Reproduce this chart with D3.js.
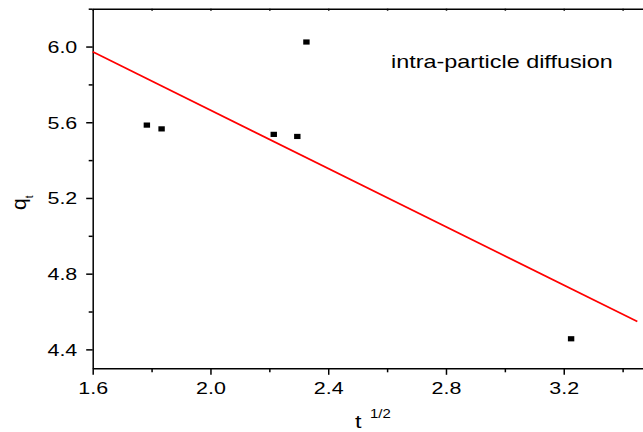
<!DOCTYPE html>
<html lang="en">
<head>
<meta charset="UTF-8">
<title>intra-particle diffusion</title>
<script src="https://d3js.org/d3.v7.min.js"></script>
<style>
  body { margin: 0; background: #fff; overflow: hidden; }
  svg { display: block; font-family: "Liberation Sans", Arial, sans-serif; }
  .axis path, .axis line { stroke: #000; stroke-width: 1.5px; }
  .axis text { fill: #000; }
</style>
</head>
<body>
<svg id="chart" width="643" height="432"></svg>
<script>
// measured data (t^1/2 vs q_t)
const tValues = [1.784, 1.834, 2.215, 2.295, 2.326, 3.225];
const qValues = [5.585, 5.565, 5.536, 5.525, 6.024, 4.456];

const xMajor = [1.6, 2.0, 2.4, 2.8, 3.2];
const xMinor = [1.8, 2.2, 2.6, 3.0, 3.4];
const yMajor = [4.4, 4.8, 5.2, 5.6, 6.0];
const yMinor = [4.6, 5.0, 5.4, 5.8, 6.2];
const fitRange = [1.6, 3.45];
const annotation = "intra-particle diffusion";

const svg = d3.select("#chart");
const plotLeft = 92.7, plotTop = 8.7, plotBottom = 368.3;
const stretch = 1.3; // labels in the source are drawn wide

const x = d3.scaleLinear().domain([1.6, 3.5]).range([plotLeft, plotLeft + 1.9 * 294.4]);
const y = d3.scaleLinear().domain([4.3, 6.2]).range([plotBottom, plotTop]);

// least-squares line through the points
const mx = d3.mean(tValues), my = d3.mean(qValues);
const sxy = d3.sum(tValues, (t, i) => (t - mx) * (qValues[i] - my));
const sxx = d3.sum(tValues, t => (t - mx) * (t - mx));
const slope = sxy / sxx, intercept = my - slope * mx;

// bottom axis
const gx = svg.append("g").attr("class", "axis")
  .attr("transform", `translate(0,${plotBottom})`)
  .call(d3.axisBottom(x).tickValues(xMajor).tickSize(6.5).tickSizeOuter(0).tickFormat(d3.format(".1f")));
gx.selectAll("text")
  .attr("y", 25.7).attr("dy", 0)
  .style("font-size", "16.5px")
  .attr("transform", `scale(${stretch},1)`);
svg.append("g").attr("class", "axis")
  .attr("transform", `translate(0,${plotBottom})`)
  .call(d3.axisBottom(x).tickValues(xMinor).tickSize(4).tickFormat(""))
  .select(".domain").remove();

// top axis, ticks inward
svg.append("g").attr("class", "axis")
  .attr("transform", `translate(0,${plotTop})`)
  .call(d3.axisBottom(x).tickValues(xMajor.concat(xMinor)).tickSize(2).tickSizeOuter(0).tickFormat(""));

// left axis
const gy = svg.append("g").attr("class", "axis")
  .attr("transform", `translate(${plotLeft},0)`)
  .call(d3.axisLeft(y).tickValues(yMajor).tickSize(6.5).tickSizeOuter(0).tickFormat(d3.format(".1f")));
gy.selectAll("text")
  .attr("x", -15.4 / stretch).attr("dy", "0.36em")
  .style("font-size", "16.5px")
  .attr("transform", `scale(${stretch},1)`);
svg.append("g").attr("class", "axis")
  .attr("transform", `translate(${plotLeft},0)`)
  .call(d3.axisLeft(y).tickValues(yMinor).tickSize(4).tickFormat(""))
  .select(".domain").remove();

// fit line
svg.append("line")
  .attr("x1", x(fitRange[0])).attr("y1", y(intercept + slope * fitRange[0]))
  .attr("x2", x(fitRange[1])).attr("y2", y(intercept + slope * fitRange[1]))
  .attr("stroke", "#ff0000").attr("stroke-width", 1.7);

// points
svg.append("g").selectAll("rect")
  .data(tValues.map((t, i) => [t, qValues[i]]))
  .join("rect")
  .attr("x", d => x(d[0]) - 3.2).attr("y", d => y(d[1]) - 2.6)
  .attr("width", 6.4).attr("height", 5.2)
  .attr("fill", "#000");

// annotation
svg.append("text")
  .attr("transform", `translate(391,68) scale(${stretch},1)`)
  .style("font-size", "18px")
  .text(annotation);

// x label: t^1/2
svg.append("text")
  .attr("transform", `translate(355,428) scale(${stretch},1)`)
  .style("font-size", "18px")
  .text("t");
svg.append("text")
  .attr("transform", "translate(370,417.5) scale(1.15,1)")
  .style("font-size", "13px")
  .text("1/2");

// y label: q_t
const yl = svg.append("text")
  .attr("transform", "translate(26,210) rotate(-90)")
  .style("font-size", "21px");
yl.append("tspan").text("q");
yl.append("tspan").attr("dy", 7).style("font-size", "10px").text("t");
</script>
</body>
</html>
